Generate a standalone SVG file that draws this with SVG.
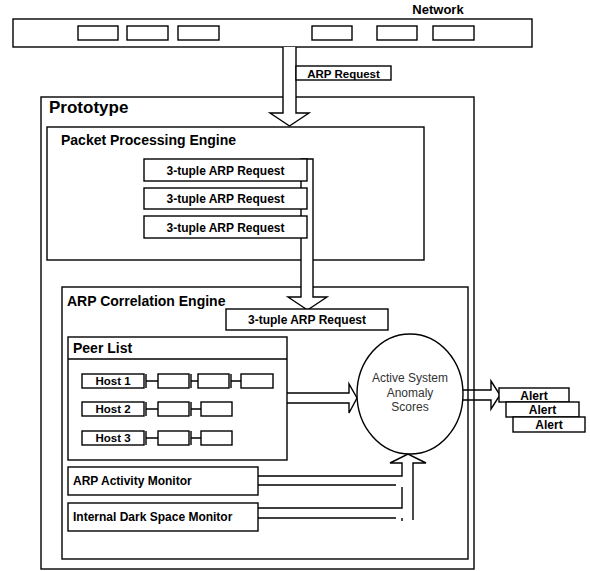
<svg xmlns="http://www.w3.org/2000/svg" width="590" height="571" viewBox="0 0 590 571">
<style>
.b{fill:#fff;stroke:#000;stroke-width:1.4}
.n{fill:none;stroke:#000;stroke-width:1.4}
.t{font-family:"Liberation Sans",Arial,sans-serif;font-weight:bold;fill:#000}
.c{text-anchor:middle}
.r{font-family:"Liberation Sans",Arial,sans-serif;font-size:12px;fill:#333;text-anchor:middle}
</style>
<rect width="590" height="571" fill="#fff"/>
<g id="network">
<text class="t c" x="438" y="14" font-size="13">Network</text>
<rect class="b" x="13" y="19" width="519" height="28"/>
<rect class="b" x="78" y="26" width="40" height="14"/>
<rect class="b" x="127" y="26" width="41" height="14"/>
<rect class="b" x="178" y="26" width="41" height="14"/>
<rect class="b" x="312" y="26" width="40" height="14"/>
<rect class="b" x="377" y="26" width="40" height="14"/>
<rect class="b" x="433" y="26" width="41" height="14"/>
</g>
<g id="prototype">
<rect class="b" x="41" y="97" width="433" height="472"/>
<text class="t" x="49" y="113" font-size="17">Prototype</text>
</g>
<g id="ppe">
<rect class="b" x="47" y="127" width="377" height="133"/>
<text class="t" x="61" y="145" font-size="14">Packet Processing Engine</text>
</g>
<g id="ace">
<rect class="b" x="62" y="287" width="406" height="272"/>
<text class="t" x="67" y="306" font-size="14">ARP Correlation Engine</text>
</g>
<g id="connectors">
<path class="b" d="M283,47 V113 H270 L289.5,126 L309,113 H296 V47"/>
<path class="b" d="M301,159 H313 V297 H327 L307.5,310 L288,297 H301 Z"/>
<path class="b" d="M287,393 H349 V384 L357,398 L349,413 V403 H287"/>
<path class="n" d="M463,390 H491 V381 L500,395 L491,409 V400 H463"/>
<path class="n" d="M258,476 H402 V463 H390 L408,454 L426,463 H413 V520"/>
<path class="n" d="M258,485 H396 M402,487 V508 H258 M258,518 H396 M402,518 V521"/>
</g>
<g id="arp-request-label">
<rect class="b" x="296" y="66" width="95" height="14"/>
<text class="t c" x="343.5" y="77.5" font-size="11.5">ARP Request</text>
</g>
<g id="ppe-queue">
<rect class="b" x="144" y="159" width="163" height="22"/>
<text class="t c" x="225.5" y="174.5" font-size="12">3-tuple ARP Request</text>
<rect class="b" x="144" y="188" width="163" height="21"/>
<text class="t c" x="225.5" y="203" font-size="12">3-tuple ARP Request</text>
<rect class="b" x="144" y="216" width="163" height="22"/>
<text class="t c" x="225.5" y="231.5" font-size="12">3-tuple ARP Request</text>
</g>
<g id="ace-request">
<rect class="b" x="226" y="309" width="162" height="21"/>
<text class="t c" x="307" y="324" font-size="12">3-tuple ARP Request</text>
</g>
<g id="peer-list">
<rect class="b" x="68" y="337" width="219" height="123"/>
<line class="n" x1="68" y1="359" x2="287" y2="359"/>
<text class="t" x="73" y="353" font-size="14">Peer List</text>
<rect class="b" x="82" y="374" width="62" height="14"/>
<text class="t c" x="113" y="385" font-size="11.5">Host 1</text>
<path class="n" d="M146,374 V388 M146,381 H158 M191,374 V388 M191,381 H198 M231,374 V388 M231,381 H241"/>
<rect class="b" x="158" y="374" width="31" height="14"/>
<rect class="b" x="198" y="374" width="31" height="14"/>
<rect class="b" x="241" y="374" width="32" height="14"/>
<rect class="b" x="82" y="402" width="62" height="14"/>
<text class="t c" x="113" y="413" font-size="11.5">Host 2</text>
<path class="n" d="M146,402 V416 M146,409 H158 M191,402 V416 M191,409 H201"/>
<rect class="b" x="158" y="402" width="31" height="14"/>
<rect class="b" x="201" y="402" width="31" height="14"/>
<rect class="b" x="82" y="431" width="62" height="14"/>
<text class="t c" x="113" y="442" font-size="11.5">Host 3</text>
<path class="n" d="M146,431 V445 M146,438 H158 M191,431 V445 M191,438 H201"/>
<rect class="b" x="158" y="431" width="31" height="14"/>
<rect class="b" x="201" y="431" width="31" height="14"/>
</g>
<g id="scores">
<ellipse class="b" cx="410" cy="394" rx="53" ry="60"/>
<text class="r" x="410" y="382">Active System</text>
<text class="r" x="410" y="397">Anomaly</text>
<text class="r" x="410" y="411">Scores</text>
</g>
<g id="arp-activity-monitor">
<rect class="b" x="68" y="467" width="190" height="28"/>
<text class="t" x="73" y="485" font-size="12">ARP Activity Monitor</text>
</g>
<g id="dark-space-monitor">
<rect class="b" x="68" y="503" width="190" height="28"/>
<text class="t" x="73" y="521" font-size="12">Internal Dark Space Monitor</text>
</g>
<g id="alerts">
<rect class="b" x="499" y="388" width="70" height="14"/>
<text class="t c" x="534" y="399.5" font-size="12">Alert</text>
<rect class="b" x="506" y="402" width="73" height="15"/>
<text class="t c" x="542.5" y="414" font-size="12">Alert</text>
<rect class="b" x="513" y="417" width="72" height="15"/>
<text class="t c" x="549" y="429" font-size="12">Alert</text>
</g>
</svg>
